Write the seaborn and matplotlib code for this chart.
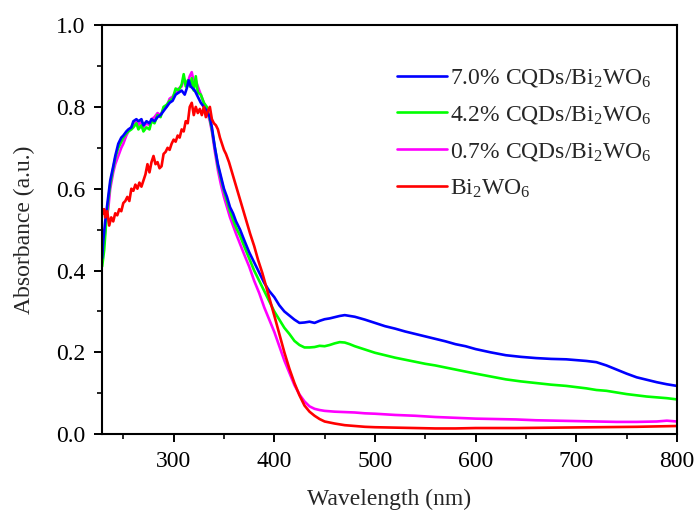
import matplotlib
matplotlib.use("Agg")
import matplotlib.pyplot as plt
import seaborn as sns
import pandas as pd
from matplotlib.ticker import MultipleLocator

# ---------------- data ----------------
wl_blue = [229, 230, 232, 235, 237, 240, 242, 245, 248, 250, 253, 255, 258, 260, 263, 265, 268, 270, 273, 276,
           278, 281, 284, 287, 290, 293, 296, 299, 302, 305, 308, 311, 313, 315, 317, 319, 321, 324, 327, 330,
           333, 336, 338, 341, 344, 347, 350, 353, 356, 359, 362, 366, 370, 375, 380, 385, 390, 395, 400, 405,
           410, 415, 420, 425, 430, 435, 440, 445, 450, 455, 460, 465, 470, 475, 480, 490, 500, 510, 520, 530,
           540, 550, 560, 570, 580, 590, 600, 615, 630, 645, 660, 675, 690, 700, 710, 720, 730, 740, 750, 760,
           770, 780, 790, 800]
abs_blue = [0.43, 0.47, 0.52, 0.58, 0.62, 0.655, 0.68, 0.71, 0.725, 0.73, 0.74, 0.745, 0.75, 0.765, 0.77, 0.765,
            0.77, 0.755, 0.765, 0.76, 0.77, 0.765, 0.775, 0.78, 0.79, 0.80, 0.81, 0.815, 0.83, 0.835, 0.84, 0.83,
            0.845, 0.865, 0.85, 0.845, 0.84, 0.825, 0.81, 0.80, 0.79, 0.775, 0.75, 0.70, 0.66, 0.63, 0.60, 0.58,
            0.555, 0.54, 0.52, 0.50, 0.475, 0.445, 0.42, 0.395, 0.37, 0.35, 0.335, 0.315, 0.30, 0.29, 0.28, 0.272,
            0.273, 0.275, 0.272, 0.277, 0.281, 0.283, 0.286, 0.289, 0.291, 0.289, 0.287, 0.28, 0.272, 0.264, 0.258,
            0.251, 0.245, 0.239, 0.233, 0.227, 0.22, 0.215, 0.208, 0.20, 0.193, 0.189, 0.186, 0.184, 0.183, 0.181,
            0.179, 0.176, 0.168, 0.158, 0.148, 0.139, 0.133, 0.127, 0.122, 0.118]

wl_green = [229, 231, 233, 235, 237, 240, 242, 245, 248, 250, 253, 255, 258, 260, 263, 265, 268, 270, 273, 276,
            278, 281, 284, 287, 290, 293, 296, 299, 302, 305, 308, 310, 312, 314, 316, 318, 320, 322, 324, 327,
            330, 333, 336, 338, 341, 344, 347, 350, 353, 356, 359, 362, 366, 370, 375, 380, 385, 390, 395, 400,
            405, 410, 415, 420, 425, 430, 435, 440, 445, 450, 455, 460, 465, 470, 475, 480, 490, 500, 510, 520,
            530, 540, 550, 560, 570, 580, 590, 600, 615, 630, 645, 660, 675, 690, 700, 710, 720, 730, 740, 750,
            760, 770, 780, 790, 800]
abs_green = [0.41, 0.45, 0.52, 0.57, 0.61, 0.65, 0.675, 0.70, 0.715, 0.725, 0.735, 0.74, 0.745, 0.75, 0.76, 0.745,
             0.755, 0.74, 0.75, 0.745, 0.765, 0.76, 0.78, 0.775, 0.80, 0.805, 0.815, 0.82, 0.845, 0.84, 0.855, 0.88,
             0.85, 0.865, 0.85, 0.87, 0.84, 0.875, 0.835, 0.83, 0.81, 0.80, 0.77, 0.745, 0.70, 0.655, 0.625, 0.595,
             0.57, 0.545, 0.525, 0.505, 0.485, 0.46, 0.43, 0.40, 0.375, 0.35, 0.325, 0.30, 0.28, 0.26, 0.245, 0.228,
             0.218, 0.212, 0.212, 0.213, 0.216, 0.215, 0.218, 0.222, 0.225, 0.224, 0.22, 0.215, 0.207, 0.199, 0.193,
             0.187, 0.182, 0.177, 0.172, 0.168, 0.163, 0.158, 0.153, 0.148, 0.141, 0.134, 0.129, 0.125, 0.121, 0.118,
             0.115, 0.112, 0.108, 0.106, 0.102, 0.098, 0.095, 0.092, 0.09, 0.088, 0.085]

wl_mag = [229, 231, 233, 235, 237, 240, 242, 245, 248, 250, 253, 255, 258, 260, 263, 265, 268, 270, 273, 276,
          278, 281, 284, 287, 290, 293, 296, 299, 302, 305, 308, 310, 312, 314, 316, 318, 320, 322, 324, 327,
          330, 333, 336, 338, 341, 344, 347, 350, 353, 356, 359, 362, 366, 370, 375, 380, 385, 390, 395, 400,
          405, 410, 415, 420, 425, 430, 435, 440, 445, 450, 460, 470, 480, 490, 500, 520, 540, 560, 580, 600,
          620, 640, 660, 680, 700, 720, 740, 760, 780, 790, 800]
abs_mag = [0.44, 0.47, 0.53, 0.55, 0.60, 0.64, 0.66, 0.68, 0.70, 0.71, 0.73, 0.74, 0.75, 0.76, 0.765, 0.755, 0.765,
           0.75, 0.76, 0.755, 0.77, 0.775, 0.785, 0.78, 0.795, 0.80, 0.82, 0.825, 0.835, 0.845, 0.85, 0.87, 0.855,
           0.86, 0.875, 0.885, 0.86, 0.865, 0.85, 0.83, 0.81, 0.79, 0.765, 0.74, 0.69, 0.645, 0.61, 0.58, 0.555,
           0.53, 0.51, 0.49, 0.465, 0.44, 0.41, 0.375, 0.345, 0.31, 0.28, 0.25, 0.215, 0.18, 0.15, 0.12, 0.097,
           0.08, 0.068, 0.062, 0.059, 0.057, 0.055, 0.054, 0.053, 0.051, 0.05, 0.047, 0.045, 0.042, 0.04, 0.038,
           0.037, 0.036, 0.034, 0.033, 0.032, 0.031, 0.030, 0.030, 0.031, 0.033, 0.031]

wl_red = [229, 230, 231, 232, 234, 236, 238, 240, 242, 244, 246, 248, 250, 252, 254, 256, 258, 260, 262, 264,
          266, 268, 270, 272, 274, 276, 278, 280, 282, 284, 286, 288, 290, 292, 294, 296, 298, 300, 302, 304,
          306, 308, 310, 312, 314, 316, 318, 320, 322, 324, 326, 328, 330, 332, 334, 336, 338, 340, 342, 344,
          346, 348, 350, 352, 355, 358, 361, 364, 367, 370, 373, 376, 380, 384, 388, 392, 396, 400, 405, 410,
          415, 420, 425, 430, 435, 440, 445, 450, 460, 470, 480, 490, 500, 520, 540, 560, 580, 600, 640, 680,
          720, 760, 800]
abs_red = [0.55, 0.54, 0.55, 0.53, 0.545, 0.51, 0.53, 0.52, 0.54, 0.535, 0.55, 0.545, 0.565, 0.57, 0.58, 0.57,
           0.60, 0.595, 0.61, 0.60, 0.615, 0.605, 0.62, 0.635, 0.66, 0.64, 0.665, 0.68, 0.66, 0.665, 0.65, 0.655,
           0.685, 0.69, 0.70, 0.695, 0.71, 0.72, 0.715, 0.73, 0.725, 0.745, 0.74, 0.765, 0.76, 0.80, 0.81, 0.78,
           0.80, 0.785, 0.795, 0.78, 0.80, 0.775, 0.79, 0.80, 0.77, 0.76, 0.755, 0.745, 0.725, 0.71, 0.695, 0.685,
           0.665, 0.64, 0.615, 0.59, 0.565, 0.54, 0.515, 0.49, 0.46, 0.425, 0.395, 0.36, 0.325, 0.29, 0.245, 0.20,
           0.16, 0.125, 0.095, 0.07, 0.055, 0.045, 0.037, 0.031, 0.026, 0.022, 0.02, 0.018, 0.017, 0.016, 0.015,
           0.014, 0.014, 0.015, 0.015, 0.016, 0.017, 0.018, 0.02]

labels = [r"7.0% CQDs/Bi$_2$WO$_6$", r"4.2% CQDs/Bi$_2$WO$_6$",
          r"0.7% CQDs/Bi$_2$WO$_6$", r"Bi$_2$WO$_6$"]
colors = ["#0000FF", "#00FF00", "#FF00FF", "#FF0000"]

# ---------------- style ----------------
sns.set_theme(style="ticks")
plt.rcParams["font.family"] = ["Liberation Serif", "DejaVu Serif"]
plt.rcParams["mathtext.fontset"] = "custom"
plt.rcParams["mathtext.rm"] = "Liberation Serif"
plt.rcParams["mathtext.it"] = "Liberation Serif:italic"

FS = 17

fig = plt.figure(figsize=(6.95, 5.12), dpi=100)
ax = fig.add_axes([0.147, 0.152, 0.827, 0.799])

series = [(wl_mag, abs_mag, 2), (wl_green, abs_green, 1), (wl_blue, abs_blue, 0), (wl_red, abs_red, 3)]
for wl, ab, idx in series:
    df = pd.DataFrame({"wl": wl, "abs": ab})
    sns.lineplot(data=df, x="wl", y="abs", ax=ax, color=colors[idx], linewidth=1.9,
                 sort=False, estimator=None, label=labels[idx])

h, l = ax.get_legend_handles_labels()
order = [l.index(lab) for lab in labels]
ax.legend([h[i] for i in order], [l[i] for i in order], loc="upper left",
          bbox_to_anchor=(0.497, 0.92), frameon=False, fontsize=FS, handlelength=2.1,
          handletextpad=0.15, labelspacing=0.62, borderaxespad=0)

ax.set_xlim(229, 800)
ax.set_ylim(0, 1.0)
ax.xaxis.set_major_locator(MultipleLocator(100))
ax.xaxis.set_minor_locator(MultipleLocator(50))
ax.yaxis.set_major_locator(MultipleLocator(0.2))
ax.yaxis.set_minor_locator(MultipleLocator(0.1))
ax.yaxis.set_major_formatter(plt.FormatStrFormatter("%.1f"))
ax.tick_params(axis="both", which="major", direction="out", length=6, width=1.4,
               labelsize=FS, colors="black", pad=6)
ax.tick_params(axis="both", which="minor", direction="out", length=3.6, width=1.4)
for s in ax.spines.values():
    s.set_visible(True)
    s.set_linewidth(1.5)
    s.set_color("black")
ax.set_xlabel("Wavelength (nm)", fontsize=FS, labelpad=12)
ax.set_ylabel("Absorbance (a.u.)", fontsize=FS, labelpad=15)

fig.savefig("out.png", dpi=100)
